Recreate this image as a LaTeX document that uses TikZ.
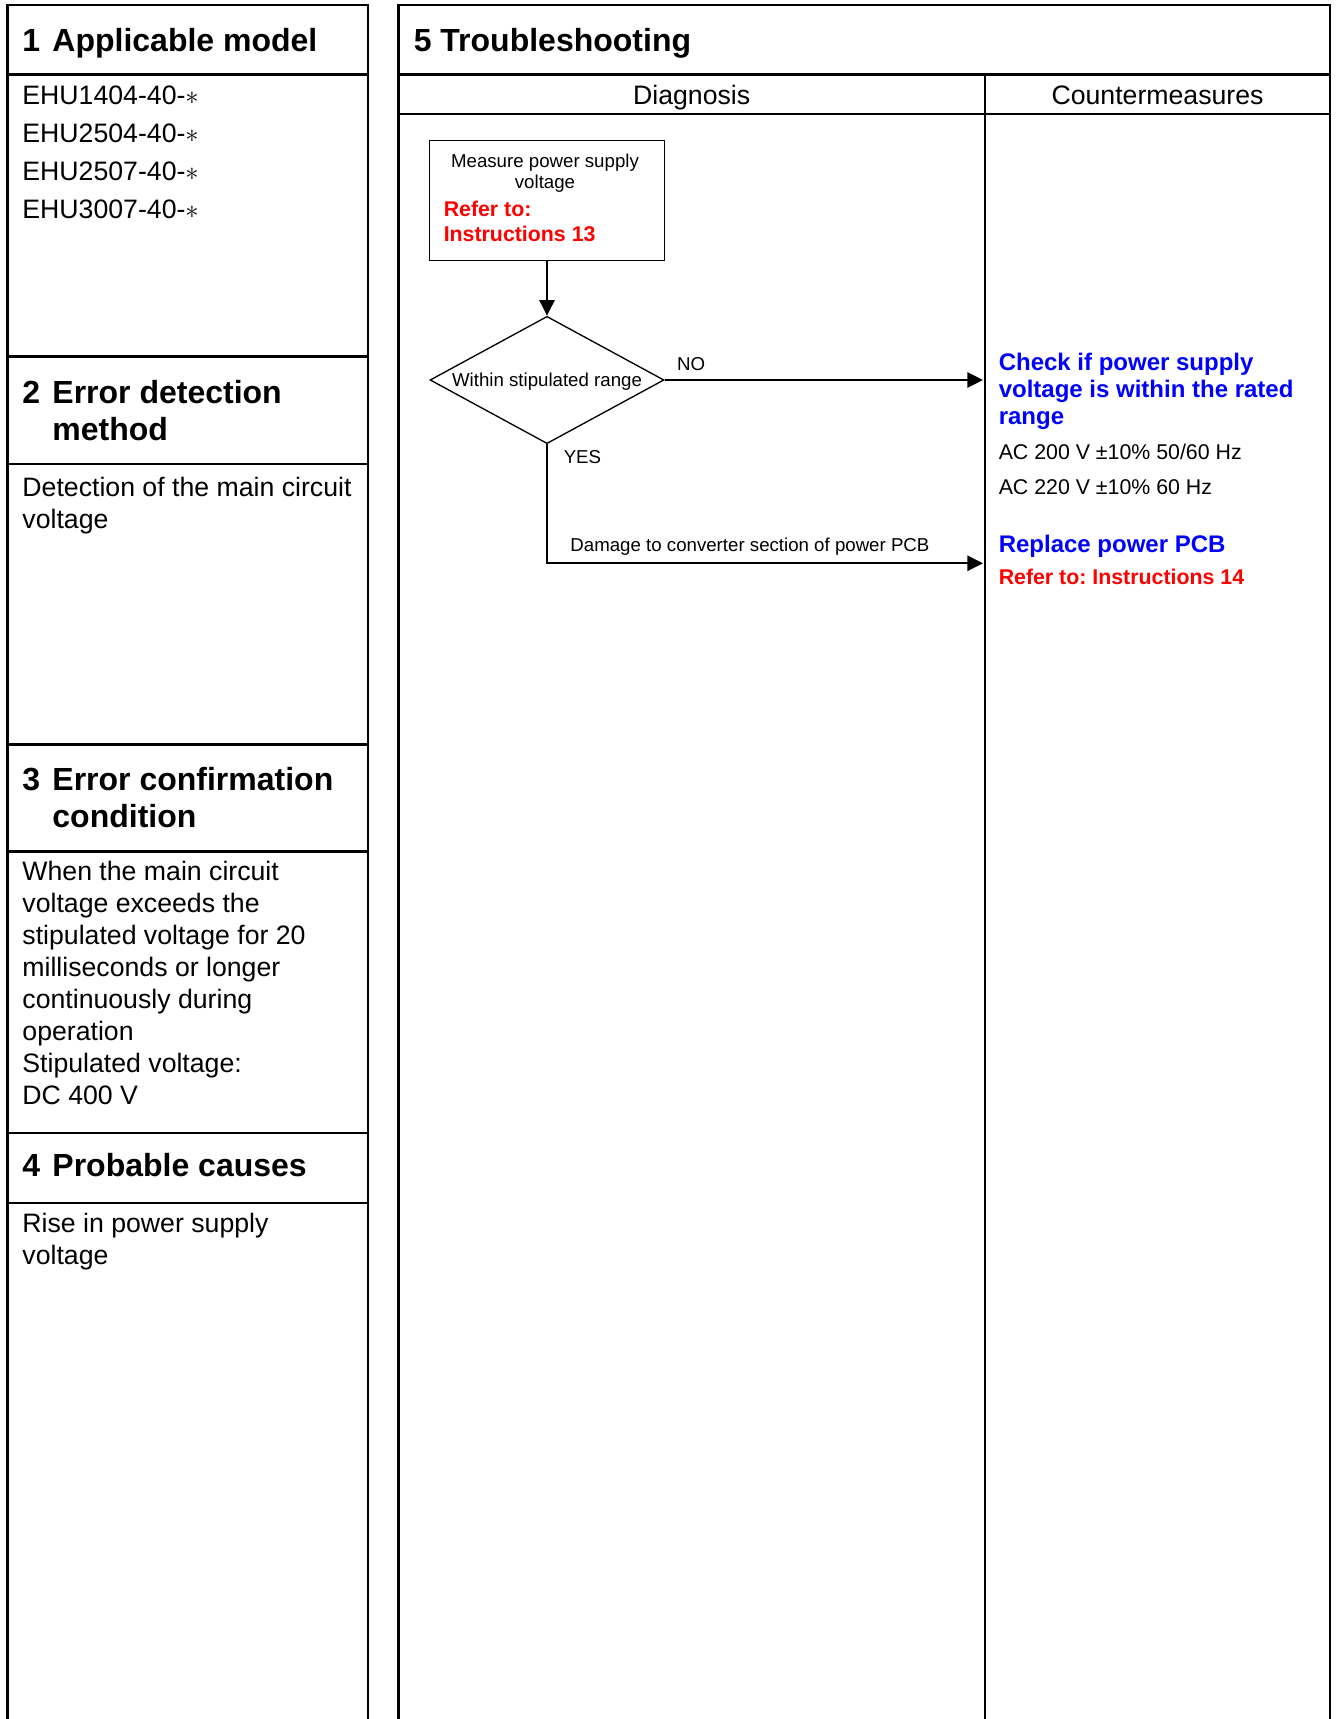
\documentclass[tikz,border=0pt]{standalone}
\usepackage{fontspec}
\setmainfont{Liberation Sans}
\usepackage{xcolor}
\definecolor{ctRed}{HTML}{FF0000}
\definecolor{ctBlue}{HTML}{0000FF}
\usetikzlibrary{shapes.geometric,arrows.meta}
\frenchspacing

\begin{document}
\begin{tikzpicture}[x=0.45pt, y=-0.45pt,
  frame/.style={line width=1.1pt},
  txt/.style={anchor=base west, inner sep=0pt, align=left},
  head/.style={txt, font=\fontsize{14.4}{16.65}\selectfont\bfseries},
  body/.style={txt, font=\fontsize{12}{14.4}\selectfont},
  small/.style={inner sep=0pt, font=\fontsize{8.4}{9.4}\selectfont},
  redref/.style={txt, text=ctRed, font=\fontsize{9.6}{11.25}\selectfont\bfseries},
  blueact/.style={txt, text=ctBlue, font=\fontsize{10.8}{12.2}\selectfont\bfseries},
  flowbox/.style={draw, line width=0.6pt, inner sep=0pt},
  flowarrow/.style={line width=1pt, -{Triangle[length=7pt,width=6.8pt]}}]
  \useasboundingbox (0,0) rectangle (1335,1719);
  \draw[frame] (7.5,1719) -- (7.5,5) -- (368,5) -- (368,1719);
  \foreach \y in {74.5,356.5,464,744.5,851.5,1133,1203}
    \draw[frame] (7.5,\y) -- (368,\y);
  \draw[frame] (398.5,1719) -- (398.5,5) -- (1330,5) -- (1330,1719);
  \draw[frame] (398.5,74.5) -- (1330,74.5);
  \draw[frame] (398.5,114) -- (1330,114);
  \draw[frame] (985,74.5) -- (985,1719);

  % multi-line texts sit on the baseline of their last line
  \node[head] (n1) at (22,51.7) {1};
  \node[head] (t1) at (52,51.7) {Applicable model};
  \node[body, font=\fontsize{12}{17.1}\selectfont] (models) at (22,218.3)
    {EHU1404-40-$\ast$\\EHU2504-40-$\ast$\\EHU2507-40-$\ast$\\EHU3007-40-$\ast$};
  \node[head] (n2) at (22,403.3) {2};
  \node[head] (t2) at (52,440.3) {Error detection\\method};
  \node[body] (b2) at (22,528.7) {Detection of the main circuit\\voltage};
  \node[head] (n3) at (22,790.7) {3};
  \node[head] (t3) at (52,827.7) {Error confirmation\\condition};
  \node[body] (b3) at (22,1104.7) {When the main circuit\\voltage exceeds the\\stipulated voltage for 20\\milliseconds or longer\\continuously during\\operation\\Stipulated voltage:\\DC 400 V};
  \node[head] (n4) at (22,1176.7) {4};
  \node[head] (t4) at (52,1176.7) {Probable causes};
  \node[body] (b4) at (22,1264.7) {Rise in power supply\\voltage};

  \node[head] (n5) at (413.3,51.7) {5};
  \node[head] (t5) at (440,51.7) {Troubleshooting};
  \node[body, anchor=base] (diag) at (691.7,105) {Diagnosis};
  \node[body, anchor=base] (counter) at (1157.5,105) {Countermeasures};

  \node[flowbox, minimum width=105.6pt, minimum height=54pt] (measure) at (547,200.7) {};
  \node[small, anchor=base, align=center] (measuretxt) at (545,188.6) {Measure power supply\\voltage};
  \node[redref] (ref13) at (443.3,241.7) {Refer to:\\Instructions 13};
  \node[flowbox, diamond, aspect=1.84, minimum width=105.3pt, minimum height=57.3pt, small,
    text height=7.6pt, text depth=1.6pt] (check) at (547,380) {Within stipulated range};
  \draw[flowarrow] (measure.south) -- (check.north);
  \coordinate (noend) at (983,380);
  \coordinate (yesend) at (983,563.3);
  \draw[flowarrow] (check.east) -- (noend);
  \draw[flowarrow] (check.south) |- (yesend);
  \node[small, anchor=base west] (nolbl) at (676.7,370.7) {NO};
  \node[small, anchor=base west] (yeslbl) at (563.3,463.3) {YES};
  \node[small, anchor=base west] (damage) at (570,551.7) {Damage to converter section of power PCB};

  \node[blueact] (cm1) at (998.3,424.9) {Check if power supply\\voltage is within the rated\\range};
  \node[txt, font=\fontsize{9.6}{15.75}\selectfont] (rated) at (998.3,494.3) {AC 200 V ±10\% 50/60 Hz\\AC 220 V ±10\% 60 Hz};
  \node[blueact] (cm2) at (998.3,552.7) {Replace power PCB};
  \node[redref] (ref14) at (998.3,585) {Refer to: Instructions 14};
\end{tikzpicture}
\end{document}
